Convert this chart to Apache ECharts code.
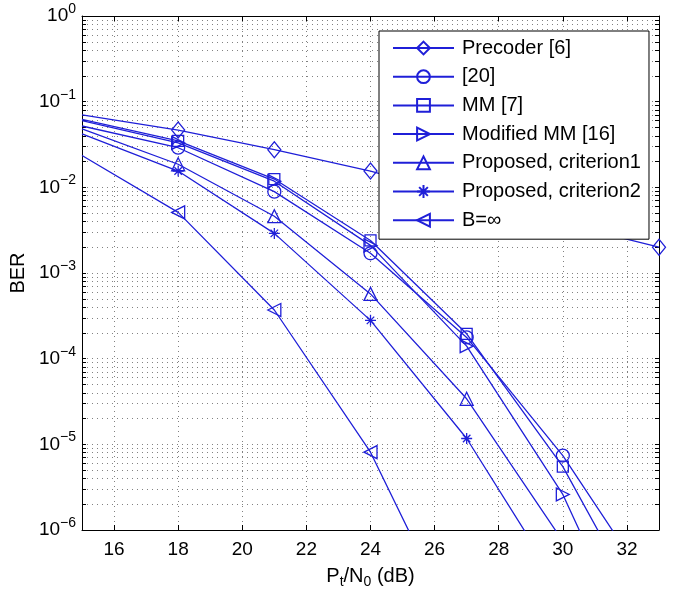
<!DOCTYPE html>
<html><head><meta charset="utf-8">
<script src="https://cdn.jsdelivr.net/npm/echarts@6/dist/echarts.min.js"></script>
<style>html,body{margin:0;padding:0;background:#fff}#c{width:675px;height:594px}</style>
</head><body><div id="c"></div>
<script>
// ---- data ----
const snr = [15, 18, 21, 24, 27, 30, 33];
const seriesNames = ['Precoder [6]', '[20]', 'MM [7]', 'Modified MM [16]', 'Proposed, criterion1', 'Proposed, criterion2', 'B=\u221e'];
const precoder6 = [0.070, 0.0466, 0.0275, 0.0155, 0.0077, 0.0038, 0.0020];
const ref20     = [0.052, 0.029, 0.0089, 0.0017, 1.77e-4, 7.4e-6, 1.5e-7];
const mm7       = [0.062, 0.0349, 0.0125, 0.0024, 1.95e-4, 5.5e-6, 5e-8];
const modMM16   = [0.060, 0.033, 0.0118, 0.0021, 1.4e-4, 2.6e-6, 9.5e-9];
const crit1     = [0.048, 0.0186, 0.0046, 5.7e-4, 3.4e-5, 7.4e-7];
const crit2     = [0.042, 0.0155, 0.0029, 2.8e-4, 1.17e-5, 1.9e-7];
const bInf      = [0.0235, 0.0051, 3.7e-4, 8.1e-6, 4e-8];
const xTicks = [16, 18, 20, 22, 24, 26, 28, 30, 32];
const yMajor = [1e-6, 1e-5, 1e-4, 1e-3, 1e-2, 1e-1, 1];

// ---- helpers ----
const yAll = [];
yMajor.forEach((d, i) => { yAll.push(d); if (i < yMajor.length - 1) for (let k = 2; k <= 9; k++) yAll.push(k * d); });
const F = '"Liberation Sans", Arial, Helvetica, sans-serif';
const BLUE = '#1f1fd8';
const STAR = 'path://M5,0L5,10M0,5L10,5M1.6,1.6L8.4,8.4M1.6,8.4L8.4,1.6';

function mk(name, vals, symbol, size, rotate) {
  return {
    name, type: 'line',
    data: vals.map((v, i) => ({ value: [snr[i], v], symbol: i === 0 ? 'none' : symbol })),
    symbol, symbolSize: size, symbolRotate: rotate || 0, showAllSymbol: true,
    lineStyle: { color: BLUE, width: 1.3 },
    itemStyle: { color: 'rgba(255,255,255,0)', borderColor: BLUE, borderWidth: 1.3 },
    emphasis: { disabled: true }, clip: true, z: 2
  };
}

const tickStyle = { show: true, inside: true, length: 5, lineStyle: { color: '#000', width: 1 } };
const gridLine = { show: true, lineStyle: { color: '#808080', width: 1, type: [1, 4] } };

const chart = echarts.init(document.getElementById('c'), null, { renderer: 'canvas' });
chart.setOption({
  animation: false,
  backgroundColor: '#fff',
  grid: { left: 78, right: 16, top: 16, bottom: 53, containLabel: false },
  xAxis: [{
    type: 'value', min: 15, max: 33, position: 'bottom',
    name: '{b|P}{s|t}{b|/N}{s|0}{b| (dB)}', nameLocation: 'middle', nameGap: 33,
    nameTextStyle: { rich: {
      b: { fontSize: 20, fontFamily: F, color: '#000' },
      s: { fontSize: 14, fontFamily: F, color: '#000', padding: [12, 0, 0, 0] } } },
    axisLine: { show: true, lineStyle: { color: '#000', width: 1 } },
    axisTick: Object.assign({ customValues: xTicks }, tickStyle),
    axisLabel: { customValues: xTicks, fontSize: 19, fontFamily: F, color: '#000', margin: 10 },
    splitLine: gridLine
  }, {
    type: 'value', min: 15, max: 33, position: 'top',
    axisLine: { show: true, onZero: false, lineStyle: { color: '#000', width: 1 } },
    axisTick: Object.assign({ customValues: xTicks }, tickStyle),
    axisLabel: { show: false }, splitLine: { show: false }
  }],
  yAxis: [{
    type: 'log', logBase: 10, min: 1e-6, max: 1, position: 'left',
    name: 'BER', nameLocation: 'middle', nameGap: 45,
    nameTextStyle: { fontSize: 20, fontFamily: F, color: '#000' },
    axisLine: { show: true, lineStyle: { color: '#000', width: 1 } },
    axisTick: Object.assign({}, tickStyle, { customValues: yAll, length: 4 }),
    axisLabel: {
      customValues: yMajor, margin: 6,
      formatter: v => { const e = Math.round(Math.log10(v)); return '{b|10}{s|' + (e < 0 ? '\u2212' + (-e) : e) + '}'; },
      rich: {
        b: { fontSize: 19, fontFamily: F, color: '#000' },
        s: { fontSize: 14, fontFamily: F, color: '#000', padding: [0, 0, 14, 0] } }
    },
    splitLine: gridLine
  }, {
    type: 'log', logBase: 10, min: 1e-6, max: 1, position: 'right',
    axisLine: { show: true, lineStyle: { color: '#000', width: 1 } },
    axisTick: Object.assign({}, tickStyle, { customValues: yAll, length: 4 }),
    axisLabel: { show: false }, splitLine: { show: false }
  }],
  legend: {
    orient: 'vertical', left: 379, top: 31, z: 10,
    backgroundColor: '#fff', borderColor: '#000', borderWidth: 1,
    padding: [7, 8, 9, 13], itemWidth: 61, itemHeight: 16, itemGap: 8.7,
    selectedMode: false,
    textStyle: { fontSize: 20, fontFamily: F, color: '#000', lineHeight: 20, padding: [0, 0, 0, 3] },
    data: seriesNames
  },
  series: [
    mk(seriesNames[0], precoder6, 'diamond', [13, 16]),
    mk(seriesNames[1], ref20, 'circle', 13),
    mk(seriesNames[2], mm7, 'rect', 11),
    mk(seriesNames[3], modMM16, 'triangle', 13, -90),
    mk(seriesNames[4], crit1, 'triangle', 13),
    mk(seriesNames[5], crit2, STAR, 11),
    mk(seriesNames[6], bInf, 'triangle', 13, 90)
  ]
});
</script></body></html>
